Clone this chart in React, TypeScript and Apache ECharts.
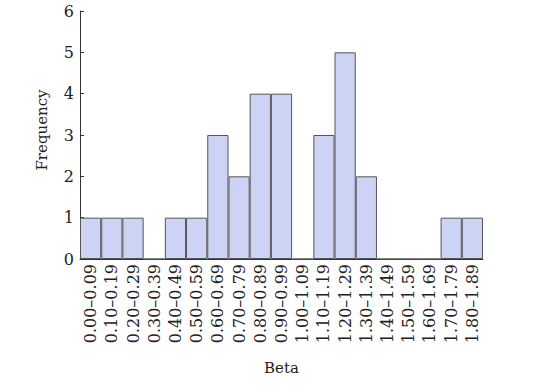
import React, { useEffect, useRef } from "react";
import * as echarts from "echarts";

const categories = [
  "0.00–0.09", "0.10–0.19", "0.20–0.29", "0.30–0.39", "0.40–0.49",
  "0.50–0.59", "0.60–0.69", "0.70–0.79", "0.80–0.89", "0.90–0.99",
  "1.00–1.09", "1.10–1.19", "1.20–1.29", "1.30–1.39", "1.40–1.49",
  "1.50–1.59", "1.60–1.69", "1.70–1.79", "1.80–1.89",
];
const frequencies = [1, 1, 1, 0, 1, 1, 3, 2, 4, 4, 0, 3, 5, 2, 0, 0, 0, 1, 1];
const yTicks = { min: 0, max: 6, interval: 1 };

const FONT = "DejaVu Serif";

export default function App() {
  const ref = useRef<HTMLDivElement>(null);
  useEffect(() => {
    if (!ref.current) return;
    const chart = echarts.init(ref.current, undefined, { renderer: "svg" });
    chart.setOption({
      animation: false,
      backgroundColor: "#ffffff",
      grid: { left: 80, right: 54, top: 11, bottom: 126, containLabel: false },
      xAxis: {
        type: "category",
        data: categories,
        boundaryGap: true,
        name: "Beta",
        nameLocation: "middle",
        nameGap: 101,
        nameTextStyle: { fontFamily: FONT, fontSize: 15, color: "#222" },
        axisLine: { show: true, lineStyle: { color: "#333", width: 1 } },
        axisTick: { show: false },
        axisLabel: {
          rotate: 90,
          interval: 0,
          margin: 5,
          fontFamily: FONT,
          fontSize: 16,
          color: "#222",
        },
        splitLine: { show: false },
      },
      yAxis: {
        type: "value",
        min: yTicks.min,
        max: yTicks.max,
        interval: yTicks.interval,
        name: "Frequency",
        nameLocation: "middle",
        nameGap: 31,
        nameTextStyle: { fontFamily: FONT, fontSize: 15, color: "#222", padding: [0, 0, 0, 10] },
        axisLine: { show: true, lineStyle: { color: "#333", width: 1 } },
        axisTick: { show: true, inside: true, length: 4, lineStyle: { color: "#333" } },
        axisLabel: { margin: 6, fontFamily: FONT, fontSize: 16, color: "#222" },
        splitLine: { show: false },
      },
      series: [
        {
          type: "bar",
          data: frequencies,
          barCategoryGap: "0%",
          itemStyle: { color: "#cdd3f5", borderColor: "#555", borderWidth: 1 },
        },
      ],
    });
    return () => chart.dispose();
  }, []);
  return (
    <div
      ref={ref}
      style={{ position: "fixed", left: 0, top: 0, width: 537, height: 385 }}
    />
  );
}
